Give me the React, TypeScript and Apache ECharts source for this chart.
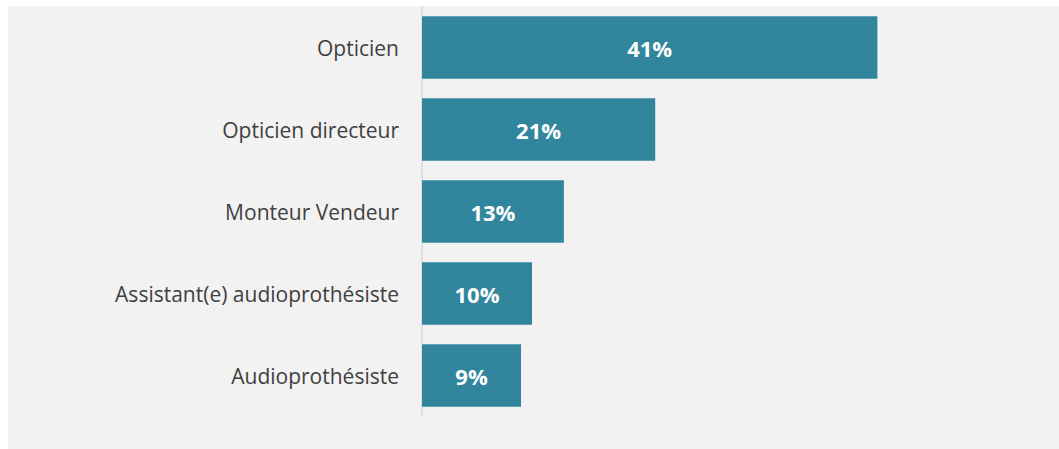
import React, { useEffect, useRef } from "react";
import * as echarts from "echarts";

const categories = [
  "Opticien",
  "Opticien directeur",
  "Monteur Vendeur",
  "Assistant(e) audioprothésiste",
  "Audioprothésiste",
];
const values = [41.4, 21.2, 12.9, 10.0, 9.0];

export default function App() {
  const ref = useRef<HTMLDivElement>(null);
  useEffect(() => {
    if (!ref.current) return;
    const chart = echarts.init(ref.current, undefined, { renderer: "svg" });
    chart.setOption({
      animation: false,
      backgroundColor: "#f2f2f2",
      grid: { left: 414, top: 0.5, width: 495, height: 410, containLabel: false },
      xAxis: {
        type: "value",
        min: 0,
        max: 45,
        show: false,
      },
      yAxis: {
        type: "category",
        inverse: true,
        data: categories,
        axisTick: { show: false },
        axisLine: { show: true, lineStyle: { color: "#d9d9d9", width: 1.5 } },
        axisLabel: {
          color: "#404040",
          fontFamily: "Open Sans",
          fontSize: 21,
          margin: 23,
        },
      },
      series: [
        {
          type: "bar",
          data: values,
          barCategoryGap: "23.5%",
          itemStyle: { color: "#31869d" },
          label: {
            show: true,
            position: "inside",
            color: "#ffffff",
            fontFamily: "Open Sans",
            fontWeight: "bold",
            fontSize: 22,
            formatter: (p: any) => Math.round(p.value) + "%",
          },
        },
      ],
    });
    return () => chart.dispose();
  }, []);
  return (
    <div
      ref={ref}
      style={{ position: "absolute", left: 8, top: 6, width: 1051, height: 443 }}
    />
  );
}
